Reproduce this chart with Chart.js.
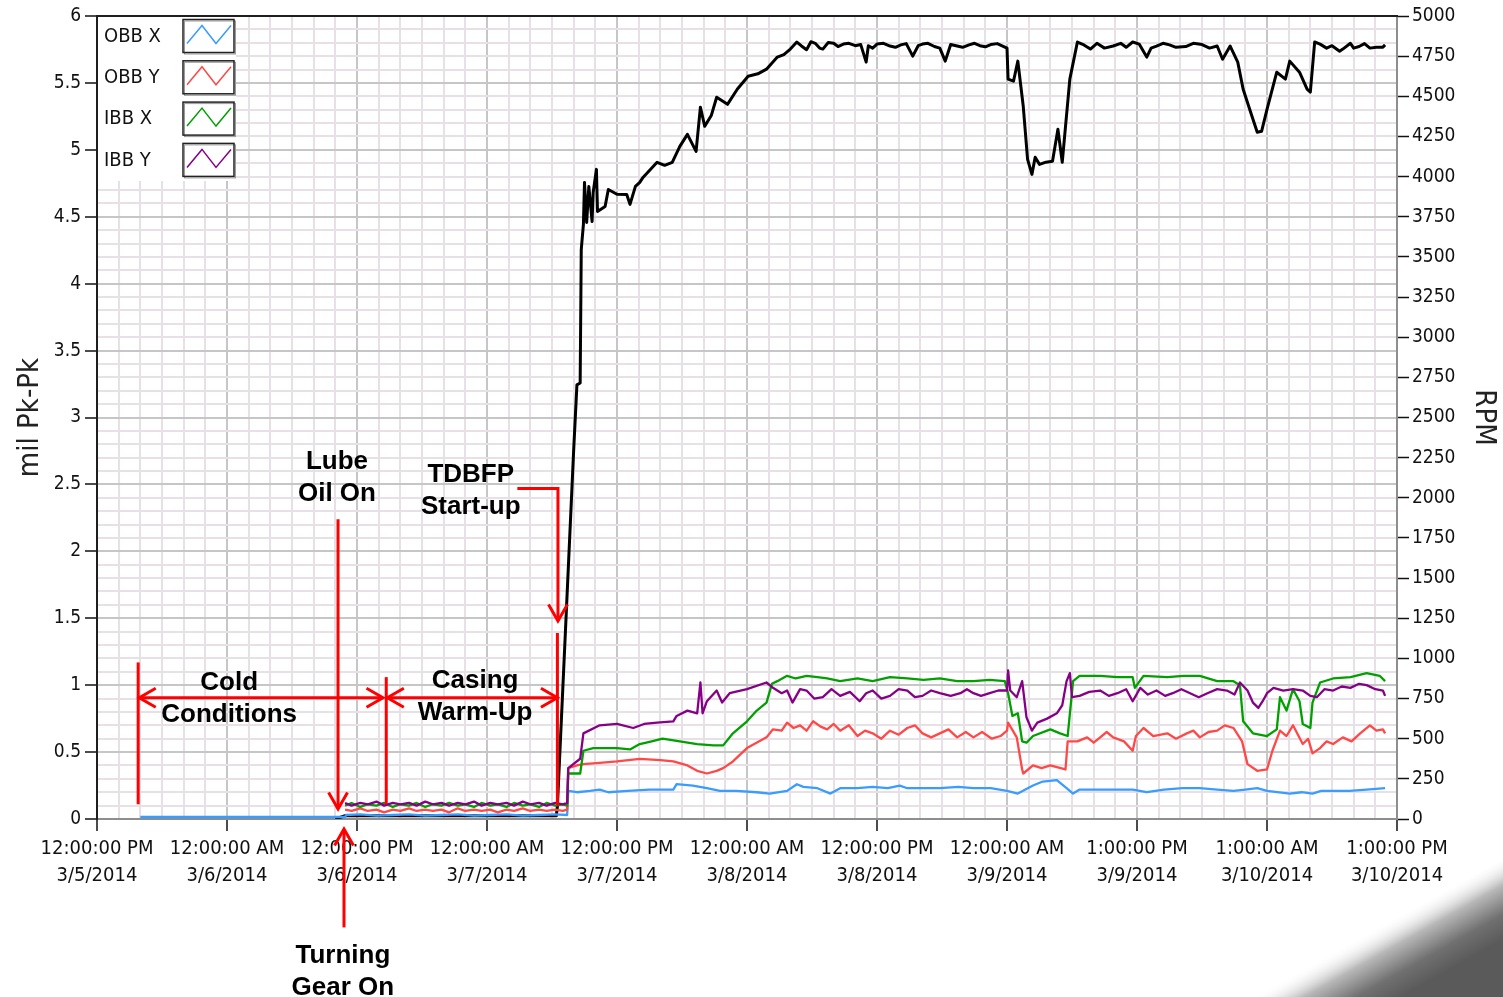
<!DOCTYPE html>
<html>
<head>
<meta charset="utf-8">
<title>TDBFP vibration and speed trend</title>
<script src="https://cdn.jsdelivr.net/npm/chart.js@4.4.0/dist/chart.umd.min.js"></script>
<style>
  body { margin: 0; background: #fff; }
  canvas { display: block; }
</style>
</head>
<body>
<canvas id="trend" width="1503" height="997"></canvas>
<script>
// x is hours after 12:00:00 PM 3/5/2014 (standard time, DST starts 3/9)
const xTickLabels = [
  ['12:00:00 PM', '3/5/2014'], ['12:00:00 AM', '3/6/2014'], ['12:00:00 PM', '3/6/2014'],
  ['12:00:00 AM', '3/7/2014'], ['12:00:00 PM', '3/7/2014'], ['12:00:00 AM', '3/8/2014'],
  ['12:00:00 PM', '3/8/2014'], ['12:00:00 AM', '3/9/2014'], ['1:00:00 PM', '3/9/2014'],
  ['1:00:00 AM', '3/10/2014'], ['1:00:00 PM', '3/10/2014']
];
const milTickLabels = ['0', '0.5', '1', '1.5', '2', '2.5', '3', '3.5', '4', '4.5', '5', '5.5', '6'];
const rpmTickLabels = ['0', '250', '500', '750', '1000', '1250', '1500', '1750', '2000', '2250', '2500',
  '2750', '3000', '3250', '3500', '3750', '4000', '4250', '4500', '4750', '5000'];

const seriesNames = ['OBB X', 'OBB Y', 'IBB X', 'IBB Y'];
const seriesColors = ['#3a9cff', '#ff4848', '#00a000', '#860086'];

// mil Pk-Pk
const obbX = [
  [4.0, 0.015], [22.9, 0.015], [23.0, 0.03], [24.3, 0.035], [25.8, 0.025], [27.3, 0.03], [28.8, 0.035],
  [30.3, 0.025], [31.8, 0.03], [33.3, 0.035], [34.8, 0.025], [36.3, 0.03], [37.8, 0.035], [39.3, 0.025],
  [40.8, 0.03], [42.3, 0.035], [43.4, 0.03],
  [43.5, 0.21], [44.3, 0.20], [45.5, 0.21], [46.4, 0.22], [47.2, 0.20], [49.0, 0.21], [51.0, 0.22],
  [53.2, 0.22], [53.5, 0.26], [55.0, 0.25], [56.3, 0.23], [57.5, 0.21], [59.0, 0.21], [60.9, 0.20],
  [62.1, 0.19], [63.7, 0.21], [64.6, 0.26], [65.2, 0.24], [66.5, 0.23], [67.7, 0.19], [68.6, 0.23],
  [70.2, 0.23], [71.6, 0.24], [73.0, 0.23], [74.1, 0.25], [74.8, 0.23], [76.5, 0.23], [77.8, 0.23],
  [79.5, 0.24], [80.9, 0.23], [82.5, 0.23], [84.0, 0.21], [85.0, 0.19], [86.4, 0.25], [87.3, 0.28],
  [88.6, 0.29], [89.5, 0.23], [90.1, 0.19], [90.7, 0.22], [93.0, 0.22], [95.6, 0.22], [96.9, 0.20],
  [98.5, 0.22], [100.2, 0.23], [101.8, 0.23], [103.4, 0.22], [104.9, 0.21], [106.0, 0.22], [107.1, 0.23],
  [108.0, 0.21], [110.1, 0.19], [111.2, 0.20], [112.2, 0.19], [113.0, 0.21], [114.1, 0.21], [115.6, 0.21],
  [117.2, 0.22], [118.9, 0.23]
];
const obbY = [
  [22.9, 0.07], [23.5, 0.06], [24.3, 0.08], [25.0, 0.06], [25.8, 0.07], [26.5, 0.05], [27.3, 0.07],
  [28.0, 0.06], [28.8, 0.08], [29.5, 0.06], [30.3, 0.07], [31.0, 0.06], [31.8, 0.07], [32.5, 0.05],
  [33.3, 0.08], [34.0, 0.06], [34.8, 0.07], [35.5, 0.06], [36.3, 0.07], [37.0, 0.05], [37.8, 0.07],
  [38.5, 0.06], [39.3, 0.08], [40.0, 0.06], [40.8, 0.07], [41.5, 0.06], [42.3, 0.07], [43.0, 0.06],
  [43.4, 0.07],
  [43.5, 0.38], [44.3, 0.40], [44.9, 0.41], [46.4, 0.42], [48.0, 0.43], [50.1, 0.45], [52.0, 0.44],
  [53.2, 0.43], [54.5, 0.40], [55.4, 0.36], [56.3, 0.34], [57.2, 0.36], [57.8, 0.38], [58.7, 0.43],
  [60.0, 0.53], [61.8, 0.61], [62.4, 0.67], [63.2, 0.66], [63.7, 0.72], [64.3, 0.68], [64.9, 0.70],
  [65.5, 0.66], [66.1, 0.73], [66.8, 0.69], [67.4, 0.67], [68.0, 0.71], [68.6, 0.66], [69.4, 0.70],
  [70.2, 0.62], [70.9, 0.66], [71.6, 0.64], [72.4, 0.60], [73.2, 0.66], [74.0, 0.63], [74.8, 0.68],
  [75.5, 0.70], [76.2, 0.64], [77.0, 0.61], [77.8, 0.64], [78.6, 0.67], [79.4, 0.61], [80.2, 0.65],
  [80.9, 0.61], [81.7, 0.65], [82.6, 0.60], [83.4, 0.62], [84.0, 0.66], [84.1, 0.72], [84.9, 0.61],
  [85.4, 0.37], [85.5, 0.34], [86.4, 0.40], [87.2, 0.38], [88.0, 0.40], [89.4, 0.37], [89.6, 0.58],
  [90.5, 0.58], [91.4, 0.61], [92.0, 0.57], [92.6, 0.61], [93.2, 0.65], [93.8, 0.61], [94.8, 0.58],
  [95.6, 0.51], [95.9, 0.62], [96.6, 0.68], [97.5, 0.62], [98.8, 0.64], [99.6, 0.60], [100.6, 0.64],
  [101.2, 0.66], [101.8, 0.61], [102.6, 0.65], [103.4, 0.66], [104.1, 0.70], [104.9, 0.68], [105.3, 0.63],
  [105.7, 0.58], [106.2, 0.41], [107.1, 0.36], [108.0, 0.37], [108.5, 0.51], [109.2, 0.66], [109.8, 0.62],
  [110.4, 0.70], [111.3, 0.56], [111.8, 0.60], [112.2, 0.49], [112.9, 0.53], [113.5, 0.58], [114.1, 0.56],
  [115.0, 0.61], [115.8, 0.58], [116.6, 0.64], [117.5, 0.70], [118.1, 0.66], [118.7, 0.67], [118.9, 0.64]
];
const ibbX = [
  [22.9, 0.10], [23.5, 0.12], [24.3, 0.09], [25.0, 0.11], [25.8, 0.10], [26.5, 0.12], [27.3, 0.09],
  [28.0, 0.11], [28.8, 0.10], [29.5, 0.12], [30.3, 0.09], [31.0, 0.11], [31.8, 0.10], [32.5, 0.12],
  [33.3, 0.10], [34.0, 0.11], [34.8, 0.09], [35.5, 0.12], [36.3, 0.10], [37.0, 0.11], [37.8, 0.09],
  [38.5, 0.12], [39.3, 0.10], [40.0, 0.11], [40.8, 0.09], [41.5, 0.12], [42.3, 0.10], [43.0, 0.11],
  [43.4, 0.10],
  [43.5, 0.34], [44.6, 0.34], [44.9, 0.51], [45.8, 0.53], [48.0, 0.53], [49.2, 0.52], [50.1, 0.56],
  [51.2, 0.58], [52.2, 0.60], [53.8, 0.58], [55.4, 0.56], [56.9, 0.55], [57.8, 0.55], [58.7, 0.64],
  [60.0, 0.73], [60.9, 0.81], [61.8, 0.87], [62.3, 1.01], [62.8, 1.03], [63.7, 1.07], [64.5, 1.05],
  [65.5, 1.07], [66.5, 1.06], [67.4, 1.05], [68.6, 1.03], [70.2, 1.05], [71.6, 1.03], [73.2, 1.06],
  [74.8, 1.05], [76.3, 1.04], [77.8, 1.05], [79.4, 1.03], [80.9, 1.03], [82.4, 1.04], [83.8, 1.03],
  [84.1, 0.94], [84.5, 0.77], [85.0, 0.79], [85.4, 0.58], [85.8, 0.57], [86.4, 0.62], [88.0, 0.67],
  [88.9, 0.64], [89.6, 0.62], [90.1, 1.03], [90.7, 1.07], [92.6, 1.07], [94.2, 1.06], [95.6, 1.06],
  [95.8, 0.98], [96.6, 1.07], [98.8, 1.06], [100.3, 1.07], [101.8, 1.07], [103.4, 1.03], [104.9, 1.03],
  [105.5, 1.00], [105.8, 0.73], [106.7, 0.64], [108.0, 0.62], [108.9, 0.67], [109.2, 0.91], [109.8, 0.81],
  [110.4, 0.97], [111.0, 0.88], [111.3, 0.71], [112.0, 0.68], [112.2, 0.87], [112.9, 1.02], [114.1, 1.05],
  [115.7, 1.06], [117.2, 1.09], [118.4, 1.07], [118.9, 1.03]
];
const ibbY = [
  [22.9, 0.12], [23.5, 0.10], [24.3, 0.12], [25.0, 0.11], [25.8, 0.13], [26.5, 0.10], [27.3, 0.12],
  [28.0, 0.11], [28.8, 0.12], [29.5, 0.10], [30.3, 0.13], [31.0, 0.11], [31.8, 0.12], [32.5, 0.10],
  [33.3, 0.12], [34.0, 0.11], [34.8, 0.13], [35.5, 0.10], [36.3, 0.12], [37.0, 0.11], [37.8, 0.12],
  [38.5, 0.10], [39.3, 0.13], [40.0, 0.11], [40.8, 0.12], [41.5, 0.10], [42.3, 0.12], [43.0, 0.11],
  [43.4, 0.12],
  [43.5, 0.38], [44.6, 0.45], [44.9, 0.64], [46.4, 0.70], [48.0, 0.71], [49.5, 0.68], [50.5, 0.71],
  [51.7, 0.72], [53.2, 0.73], [53.5, 0.77], [54.5, 0.81], [55.4, 0.79], [55.7, 1.02], [55.9, 0.79],
  [56.3, 0.88], [57.2, 0.96], [57.7, 0.87], [58.4, 0.94], [60.0, 0.97], [61.8, 1.02], [62.4, 0.98],
  [63.2, 0.94], [63.7, 0.96], [64.2, 0.87], [64.9, 0.97], [65.5, 0.96], [66.2, 0.90], [67.0, 0.91],
  [67.8, 0.97], [68.6, 0.92], [69.5, 0.95], [70.4, 0.88], [71.0, 0.94], [71.6, 0.96], [72.4, 0.90],
  [73.2, 0.92], [74.0, 0.97], [74.8, 0.96], [75.5, 0.91], [76.2, 0.92], [77.0, 0.96], [77.8, 0.94],
  [78.8, 0.92], [79.7, 0.94], [80.3, 0.97], [80.9, 0.94], [81.6, 0.92], [82.4, 0.94], [83.2, 0.96],
  [84.0, 0.96], [84.1, 1.11], [84.3, 0.96], [84.9, 0.91], [85.4, 1.03], [85.8, 0.76], [86.3, 0.66],
  [86.8, 0.72], [87.7, 0.75], [88.6, 0.79], [89.1, 0.85], [89.5, 1.03], [89.8, 1.09], [90.0, 0.91],
  [90.7, 0.92], [91.6, 0.95], [92.6, 0.96], [93.4, 0.92], [94.2, 0.94], [95.0, 0.97], [95.6, 0.88],
  [96.3, 0.98], [97.0, 0.93], [97.8, 0.96], [98.6, 0.92], [99.3, 0.94], [100.1, 0.97], [100.9, 0.94],
  [101.7, 0.91], [102.5, 0.94], [103.4, 0.97], [104.3, 0.96], [105.0, 0.93], [105.5, 1.02], [106.2, 0.96],
  [106.7, 0.87], [107.2, 0.83], [107.6, 0.88], [108.0, 0.94], [108.6, 0.98], [109.5, 0.96], [110.4, 0.97],
  [111.3, 0.96], [112.0, 0.92], [112.6, 0.91], [113.3, 0.97], [114.1, 0.96], [114.9, 0.99], [115.7, 0.98],
  [116.5, 1.01], [117.2, 1.00], [118.0, 0.97], [118.7, 0.96], [118.9, 0.92]
];
// RPM (right axis)
const rpm = [
  [22.0, 0], [22.9, 20], [42.4, 20], [42.5, 81], [43.2, 1111], [44.0, 2297], [44.3, 2703],
  [44.6, 2715], [44.7, 3545], [44.9, 3702], [45.0, 3964], [45.2, 3714], [45.4, 3939], [45.7, 3720],
  [45.8, 3901], [46.1, 4045], [46.2, 3783], [46.9, 3814], [47.2, 3920], [48.0, 3890], [48.9, 3889],
  [49.2, 3827], [49.7, 3939], [50.1, 3964], [50.4, 3995], [51.7, 4089], [52.4, 4070], [53.1, 4089],
  [53.8, 4188], [54.5, 4263], [55.3, 4157], [55.7, 4432], [56.1, 4313], [56.7, 4380], [57.2, 4494],
  [58.2, 4450], [59.1, 4544], [60.1, 4625], [61.0, 4640], [61.8, 4669], [62.8, 4744], [63.4, 4760],
  [64.0, 4794], [64.6, 4838], [65.0, 4815], [65.5, 4790], [65.9, 4840], [66.3, 4830], [66.7, 4800],
  [67.0, 4794], [67.5, 4835], [68.0, 4830], [68.4, 4810], [68.9, 4825], [69.4, 4830], [70.0, 4815],
  [70.5, 4822], [71.0, 4713], [71.2, 4815], [71.6, 4800], [72.0, 4825], [72.6, 4830], [73.2, 4813],
  [73.7, 4805], [74.2, 4820], [74.7, 4828], [75.3, 4750], [75.8, 4815], [76.2, 4825], [76.7, 4830],
  [77.3, 4810], [77.8, 4800], [78.3, 4719], [78.8, 4822], [79.4, 4813], [79.9, 4805], [80.5, 4820],
  [81.0, 4830], [81.5, 4815], [82.0, 4808], [82.5, 4822], [83.1, 4828], [83.6, 4813], [84.0, 4800],
  [84.1, 4607], [84.6, 4594], [85.0, 4719], [85.5, 4438], [85.9, 4107], [86.3, 4014], [86.6, 4120],
  [87.0, 4076], [87.6, 4090], [88.2, 4095], [88.7, 4295], [89.1, 4089], [89.8, 4607], [90.5, 4838],
  [91.1, 4820], [91.7, 4794], [92.3, 4830], [93.0, 4800], [93.8, 4813], [94.5, 4830], [95.0, 4805],
  [95.6, 4838], [96.2, 4825], [96.9, 4744], [97.3, 4800], [97.8, 4813], [98.4, 4830], [99.0, 4820],
  [99.6, 4805], [100.5, 4810], [101.2, 4830], [102.0, 4822], [102.7, 4800], [103.4, 4813], [103.9, 4731],
  [104.6, 4813], [105.3, 4713], [105.8, 4544], [106.4, 4419], [107.1, 4276], [107.5, 4282], [108.0, 4419],
  [108.9, 4650], [109.7, 4607], [110.1, 4719], [111.0, 4650], [111.7, 4544], [112.0, 4526], [112.4, 4838],
  [112.9, 4825], [113.5, 4800], [114.0, 4815], [114.7, 4781], [115.0, 4794], [115.7, 4830], [116.0, 4800],
  [116.5, 4810], [117.0, 4828], [117.5, 4800], [118.1, 4805], [118.7, 4806], [118.9, 4820]
];

// red callouts, in hours / mil Pk-Pk
const callLines = [
  { pts: [[3.8, 1.17], [3.8, 0.11]], head: '' },
  { pts: [[3.9, 0.906], [26.4, 0.906]], head: 'both' },
  { pts: [[26.7, 1.06], [26.7, 0.11]], head: '' },
  { pts: [[26.8, 0.906], [42.5, 0.906]], head: 'both' },
  { pts: [[42.5, 1.39], [42.5, 0.10]], head: '' },
  { pts: [[38.8, 2.47], [42.55, 2.47], [42.55, 1.48]], head: 'end' },
  { pts: [[22.25, 2.24], [22.25, 0.075]], head: 'end' },
  { pts: [[22.8, -0.81], [22.8, -0.075]], head: 'end' }
];
const callTexts = [
  { x: 22.15, y: [2.67, 2.43], text: ['Lube', 'Oil On'] },
  { x: 34.5, y: [2.57, 2.33], text: ['TDBFP', 'Start-up'] },
  { x: 12.2, y: [1.02, 0.78], text: ['Cold', 'Conditions'] },
  { x: 34.9, y: [1.03, 0.79], text: ['Casing', 'Warm-Up'] },
  { x: 22.7, y: [-1.02, -1.26], text: ['Turning', 'Gear On'] }
];

const tickFont = '"DejaVu Sans Condensed", "Liberation Sans", sans-serif';
const gridMajor = '#c6c6c6';
const gridMinor = '#e7e1e7';

function toPoints(arr) {
  return arr.map(p => ({ x: p[0], y: p[1] }));
}

function arrowHead(ctx, from, tip) {
  const ang = Math.atan2(tip.y - from.y, tip.x - from.x);
  const len = 19, spread = 0.52;
  ctx.beginPath();
  ctx.moveTo(tip.x - len * Math.cos(ang - spread), tip.y - len * Math.sin(ang - spread));
  ctx.lineTo(tip.x, tip.y);
  ctx.lineTo(tip.x - len * Math.cos(ang + spread), tip.y - len * Math.sin(ang + spread));
  ctx.stroke();
}

const decorations = {
  id: 'decorations',
  beforeDatasetsDraw(chart) {
    const ctx = chart.ctx, a = chart.chartArea;
    // blank panel behind the plot legend
    ctx.save();
    ctx.fillStyle = '#fff';
    ctx.fillRect(a.left + 1, a.top + 1, 138, 164);
    ctx.restore();
  },
  afterDatasetsDraw(chart) {
    const ctx = chart.ctx;
    const xs = chart.scales.x, ys = chart.scales.y;
    const px = p => ({ x: xs.getPixelForValue(p[0]), y: ys.getPixelForValue(p[1]) });
    ctx.save();
    ctx.strokeStyle = '#ff0000';
    ctx.lineWidth = 3;
    ctx.lineCap = 'butt';
    callLines.forEach(l => {
      const pts = l.pts.map(px);
      ctx.beginPath();
      ctx.moveTo(pts[0].x, pts[0].y);
      pts.slice(1).forEach(p => ctx.lineTo(p.x, p.y));
      ctx.stroke();
      const n = pts.length;
      if (l.head === 'end' || l.head === 'both') arrowHead(ctx, pts[n - 2], pts[n - 1]);
      if (l.head === 'both') arrowHead(ctx, pts[1], pts[0]);
    });
    ctx.fillStyle = '#000';
    ctx.font = 'bold 26px "Liberation Sans", Arial, sans-serif';
    ctx.textAlign = 'center';
    ctx.textBaseline = 'middle';
    callTexts.forEach(t => {
      const x = xs.getPixelForValue(t.x);
      t.text.forEach((s, i) => ctx.fillText(s, x, ys.getPixelForValue(t.y[i])));
    });
    ctx.restore();
  },
  afterDraw(chart) {
    const ctx = chart.ctx, a = chart.chartArea;
    ctx.save();
    // dark top edge of the plot frame
    ctx.strokeStyle = '#1e1e1e';
    ctx.lineWidth = 2;
    ctx.beginPath();
    ctx.moveTo(a.left - 1, a.top);
    ctx.lineTo(a.right + 1, a.top);
    ctx.stroke();

    // plot legend
    ctx.font = '20px ' + tickFont;
    ctx.textAlign = 'left';
    ctx.textBaseline = 'middle';
    seriesNames.forEach((name, i) => {
      const top = a.top + 3.5 + i * 41.3;
      ctx.fillStyle = '#111';
      ctx.fillText(name, a.left + 7, top + 17);
      ctx.fillStyle = '#fff';
      ctx.fillRect(a.left + 86, top, 51, 33);
      ctx.strokeStyle = '#9a9a9a';
      ctx.lineWidth = 1;
      ctx.strokeRect(a.left + 87.5, top + 1.5, 51, 33);
      ctx.strokeStyle = '#222';
      ctx.lineWidth = 1.5;
      ctx.strokeRect(a.left + 86, top, 51, 33);
      ctx.strokeStyle = seriesColors[i];
      ctx.lineWidth = 1.5;
      ctx.beginPath();
      ctx.moveTo(a.left + 90, top + 24);
      ctx.lineTo(a.left + 105, top + 6);
      ctx.lineTo(a.left + 119, top + 24);
      ctx.lineTo(a.left + 134, top + 6);
      ctx.stroke();
    });

    // grey swoosh in the slide corner
    const g = ctx.createLinearGradient(1392, 918, 1428, 982);
    g.addColorStop(0, 'rgba(255,255,255,0)');
    g.addColorStop(0.35, '#b8b8b8');
    g.addColorStop(0.7, '#707070');
    g.addColorStop(1, '#5a5a5a');
    ctx.fillStyle = g;
    ctx.beginPath();
    ctx.moveTo(1250, 997);
    ctx.lineTo(1503, 860);
    ctx.lineTo(1503, 997);
    ctx.closePath();
    ctx.fill();
    ctx.restore();
  }
};

const ctx = document.getElementById('trend').getContext('2d');
const lineSet = (label, data, color, order) => ({
  label, data: toPoints(data), borderColor: color, backgroundColor: color,
  borderWidth: 2.3, pointRadius: 0, tension: 0, order, yAxisID: 'y', borderJoinStyle: 'round'
});

new Chart(ctx, {
  type: 'line',
  data: {
    datasets: [
      lineSet(seriesNames[0], obbX, seriesColors[0], 4),
      lineSet(seriesNames[1], obbY, seriesColors[1], 3),
      lineSet(seriesNames[2], ibbX, seriesColors[2], 2),
      lineSet(seriesNames[3], ibbY, seriesColors[3], 1),
      {
        label: 'RPM', data: toPoints(rpm), borderColor: '#000', backgroundColor: '#000',
        borderWidth: 3, pointRadius: 0, tension: 0, order: 5, yAxisID: 'y2', borderJoinStyle: 'round'
      }
    ]
  },
  options: {
    responsive: false,
    devicePixelRatio: 1,
    animation: false,
    parsing: false,
    layout: { padding: { top: 16, left: 0, right: 0, bottom: 0 } },
    plugins: { legend: { display: false }, tooltip: { enabled: false } },
    scales: {
      x: {
        type: 'linear', min: 0, max: 120,
        afterFit: s => { s.height = 178; },
        border: { color: '#8e8e8e', width: 2 },
        grid: {
          lineWidth: 2,
          color: c => (Math.round(c.tick.value) % 12 === 0 ? gridMajor : gridMinor),
          tickColor: c => (Math.round(c.tick.value) % 12 === 0 ? '#111' : 'rgba(0,0,0,0)'),
          tickLength: 12, tickWidth: 1.5
        },
        ticks: {
          stepSize: 2, autoSkip: false, maxRotation: 0, minRotation: 0, padding: 4,
          color: '#111', font: { family: tickFont, size: 20, lineHeight: 1.35 },
          callback: v => (Math.round(v) % 12 === 0 ? xTickLabels[Math.round(v) / 12] : '')
        }
      },
      y: {
        position: 'left', min: 0, max: 6,
        afterFit: s => { s.width = 97; },
        border: { color: '#1e1e1e', width: 2 },
        grid: {
          lineWidth: 2,
          color: c => (Math.round(c.tick.value * 10) % 5 === 0 ? gridMajor : gridMinor),
          tickColor: c => (Math.round(c.tick.value * 10) % 5 === 0 ? '#111' : 'rgba(0,0,0,0)'),
          tickLength: 12, tickWidth: 1.5
        },
        ticks: {
          stepSize: 0.1, autoSkip: false, padding: 4, color: '#111',
          font: { family: tickFont, size: 19 },
          callback: v => {
            const t = Math.round(v * 10);
            return t % 5 === 0 ? milTickLabels[t / 5] : '';
          }
        },
        title: {
          display: true, text: 'mil Pk-Pk', color: '#222',
          font: { family: tickFont, size: 29 }, padding: { top: 13, bottom: 0 }
        }
      },
      y2: {
        position: 'right', min: 0, max: 5000,
        afterFit: s => { s.width = 106; },
        border: { color: '#8e8e8e', width: 2 },
        grid: { drawOnChartArea: false, tickLength: 12, tickColor: '#111', tickWidth: 1.5 },
        ticks: {
          stepSize: 250, autoSkip: false, padding: 3, color: '#111',
          font: { family: tickFont, size: 19 },
          callback: v => rpmTickLabels[Math.round(v / 250)]
        },
        title: {
          display: true, text: 'RPM', color: '#222',
          font: { family: tickFont, size: 29 }, padding: { top: 2, bottom: 0 }
        }
      }
    }
  },
  plugins: [decorations]
});
</script>
</body>
</html>
